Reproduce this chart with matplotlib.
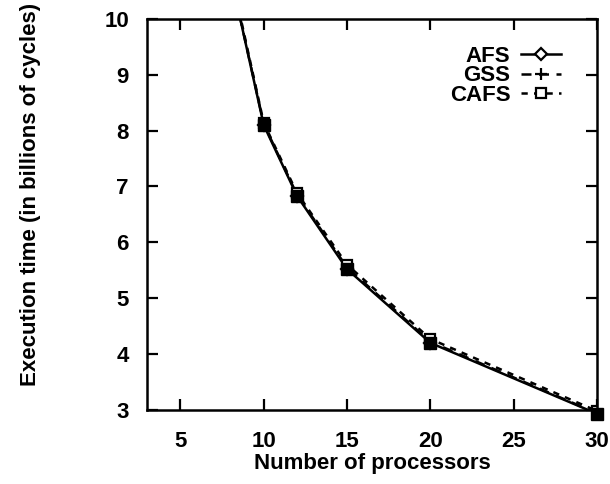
import numpy as np
import matplotlib
matplotlib.use('Agg')
import matplotlib.pyplot as plt

plt.rcParams['font.family'] = ['Liberation Sans', 'DejaVu Sans']
plt.rcParams['font.weight'] = 'bold'
plt.rcParams['axes.labelweight'] = 'bold'

# execution time (billions of cycles) vs number of processors
procs = [8, 10, 12, 15, 20, 30]
afs = [10.8, 8.10, 6.83, 5.52, 4.20, 2.93]
gss = [10.8, 8.12, 6.85, 5.55, 4.22, 2.94]
cafs = [10.85, 8.14, 6.88, 5.60, 4.27, 2.98]

xticks = [5, 10, 15, 20, 25, 30]
yticks = [3, 4, 5, 6, 7, 8, 9, 10]

fig = plt.figure(figsize=(6.10, 4.84), dpi=100)
ax = fig.add_axes([0.241, 0.153, 0.738, 0.808])

ax.plot(procs, afs, 'k-', lw=1.8, marker='D', ms=6, mfc='white', mew=1.6, label='AFS')
ax.plot(procs, gss, color='k', ls=(0, (4, 3)), lw=1.8, marker='+', ms=9, mew=1.6, label='GSS')
ax.plot(procs, cafs, color='k', ls=(0, (2.5, 2.5)), lw=1.8, marker='s', ms=7, mfc='white', mew=1.6, label='CAFS')
# overlapping markers look solid at the data points
ax.plot(procs, afs, ls='none', marker='s', ms=8.5, color='k', clip_on=False)

ax.set_xlim(3, 30)
ax.set_ylim(3, 10)
ax.set_xticks(xticks)
ax.set_yticks(yticks)
ax.tick_params(direction='in', top=True, right=True, length=8, width=1.6,
               labelsize=16, pad=15)
ax.tick_params(axis='y', pad=13)
for s in ax.spines.values():
    s.set_linewidth(1.8)

ax.set_xlabel('Number of processors', fontsize=16, labelpad=1)
ax.set_ylabel('Execution time (in billions of cycles)', fontsize=16)
ax.yaxis.set_label_coords(-0.235, 0.55)

leg = ax.legend(loc='upper right', bbox_to_anchor=(0.955, 0.97), frameon=False,
                markerfirst=False, fontsize=16, handlelength=1.8, handletextpad=0.5,
                labelspacing=-0.08, borderpad=0.2)
for t in leg.get_texts():
    t.set_ha('right')

fig.savefig('out.png', dpi=100)
